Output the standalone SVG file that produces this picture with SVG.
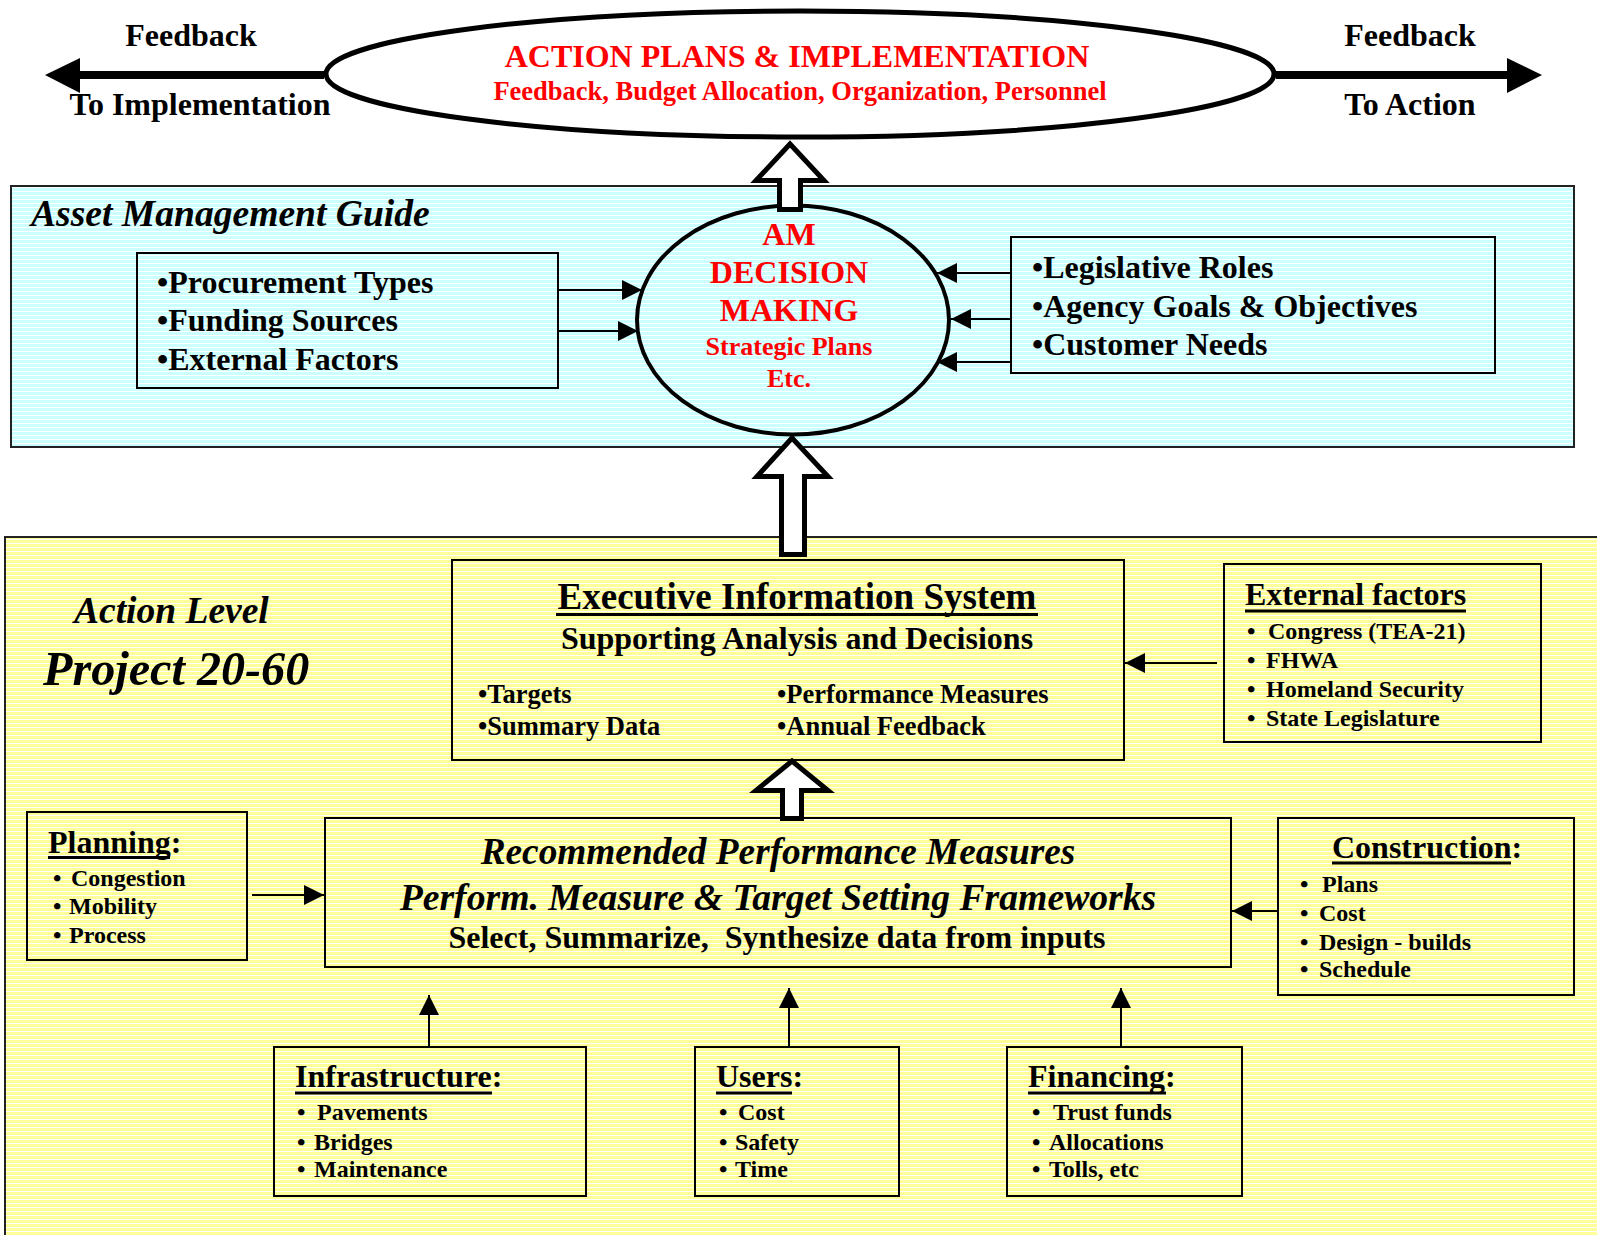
<svg xmlns="http://www.w3.org/2000/svg" width="1597" height="1235" viewBox="0 0 1597 1235">
<style>
text{font-family:"Liberation Serif","Times New Roman",serif;font-weight:bold;fill:#000}
.red{fill:#ff0000}
.it{font-style:italic}
.box{fill:none;stroke:#000;stroke-width:2}
.conn{stroke:#000;stroke-width:2;fill:none}
.ul{stroke:#000;stroke-width:3}
.hollow{fill:#fff;stroke:#000;stroke-width:5;stroke-linejoin:miter}
.f32{font-size:32px}
.f24{font-size:24px}
.mid{text-anchor:middle}
</style>
<defs>
<pattern id="cyanS" width="8" height="4" patternUnits="userSpaceOnUse"><rect width="8" height="4" fill="#ccffff"/><rect y="3" width="8" height="1" fill="#fff"/></pattern>
<pattern id="yelS" width="8" height="4" patternUnits="userSpaceOnUse"><rect width="8" height="4" fill="#ffff99"/><rect y="3" width="8" height="1" fill="#fff"/></pattern>
<marker id="ah" markerUnits="userSpaceOnUse" markerWidth="20" markerHeight="20" refX="20" refY="10" orient="auto"><path d="M0,0 L20,10 L0,20 z" fill="#000"/></marker>
</defs>
<rect width="1597" height="1235" fill="#fff"/>

<g id="asset-management-guide">
<rect x="11" y="186" width="1563" height="261" fill="url(#cyanS)" stroke="#222" stroke-width="2"/>
<text x="31" y="226" class="it" font-size="37.6">Asset Management Guide</text>
</g>
<g id="action-level">
<rect x="5" y="537" width="1600" height="710" fill="url(#yelS)" stroke="#222" stroke-width="2"/>
<text x="74" y="623" class="it" font-size="37.5">Action Level</text>
<text x="43" y="685" class="it" font-size="48.2">Project 20-60</text>
</g>

<g id="action-plans">
<ellipse cx="800" cy="74" rx="474" ry="63" fill="#fff" stroke="#000" stroke-width="5"/>
<text x="797" y="67" class="red mid" font-size="32">ACTION PLANS &amp; IMPLEMENTATION</text>
<text x="800" y="100" class="red mid" font-size="26.5">Feedback, Budget Allocation, Organization, Personnel</text>
</g>

<g id="feedback-left">
<text x="191" y="46" class="mid f32">Feedback</text>
<text x="200" y="115" class="mid f32">To Implementation</text>
</g>
<g id="feedback-right">
<text x="1410" y="46" class="mid f32">Feedback</text>
<text x="1410" y="115" class="mid f32">To Action</text>
</g>

<g id="left-factors">
<rect x="137" y="253" width="421" height="135" class="box"/>
<text x="157" y="293" class="f32">•Procurement Types</text>
<text x="157" y="331" class="f32">•Funding Sources</text>
<text x="157" y="370" class="f32">•External Factors</text>
</g>

<g id="right-factors">
<rect x="1011" y="237" width="484" height="136" class="box"/>
<text x="1032" y="278" class="f32">•Legislative Roles</text>
<text x="1032" y="317" class="f32">•Agency Goals &amp; Objectives</text>
<text x="1032" y="355" class="f32">•Customer Needs</text>
</g>

<g id="am-decision">
<ellipse cx="793" cy="320" rx="156" ry="114.5" fill="url(#cyanS)" stroke="#000" stroke-width="4"/>
<text x="789" y="244.5" class="red mid f32">AM</text>
<text x="789" y="283" class="red mid f32">DECISION</text>
<text x="789" y="321" class="red mid f32">MAKING</text>
<text x="789" y="354.5" class="red mid" font-size="26">Strategic Plans</text>
<text x="789" y="387" class="red mid" font-size="26">Etc.</text>
</g>

<g id="eis">
<rect x="452" y="560" width="672" height="200" class="box"/>
<text x="797" y="609" class="mid" font-size="37">Executive Information System</text>
<line x1="556" y1="614.5" x2="1038" y2="614.5" class="ul"/>
<text x="797" y="649" class="mid f32">Supporting Analysis and Decisions</text>
<text x="478" y="703" font-size="26.5">•Targets</text>
<text x="478" y="734.5" font-size="26.5">•Summary Data</text>
<text x="777" y="703" font-size="26.5">•Performance Measures</text>
<text x="777" y="734.5" font-size="26.5">•Annual Feedback</text>
</g>

<g id="external-factors">
<rect x="1224" y="564" width="317" height="178" class="box"/>
<text x="1245" y="605" class="f32">External factors</text>
<line x1="1245" y1="611" x2="1466" y2="611" class="ul"/>
<text x="1247" y="639" class="f24">•</text><text x="1268" y="639" class="f24">Congress (TEA-21)</text>
<text x="1247" y="668" class="f24">•</text><text x="1266" y="668" class="f24">FHWA</text>
<text x="1247" y="697" class="f24">•</text><text x="1266" y="697" class="f24">Homeland Security</text>
<text x="1247" y="726" class="f24">•</text><text x="1266" y="726" class="f24">State Legislature</text>
</g>

<g id="rpm">
<rect x="325" y="818" width="906" height="149" class="box"/>
<text x="778" y="864" class="mid it" font-size="37.3">Recommended Performance Measures</text>
<text x="778" y="909.5" class="mid it" font-size="37.7">Perform. Measure &amp; Target Setting Frameworks</text>
<text x="777" y="948" class="mid f32">Select, Summarize,&#160; Synthesize data from inputs</text>
</g>

<g id="planning">
<rect x="27" y="812" width="220" height="148" class="box"/>
<text x="48" y="853" class="f32">Planning:</text>
<line x1="48" y1="857.5" x2="170" y2="857.5" class="ul"/>
<text x="53" y="886" class="f24">•</text><text x="71" y="886" class="f24">Congestion</text>
<text x="53" y="914" class="f24">•</text><text x="69" y="914" class="f24">Mobility</text>
<text x="53" y="943" class="f24">•</text><text x="69" y="943" class="f24">Process</text>
</g>

<g id="construction">
<rect x="1278" y="818" width="296" height="177" class="box"/>
<text x="1332" y="858" class="f32">Construction:</text>
<line x1="1332" y1="863" x2="1511" y2="863" class="ul"/>
<text x="1300" y="892" class="f24">•</text><text x="1322" y="892" class="f24">Plans</text>
<text x="1300" y="921" class="f24">•</text><text x="1319" y="921" class="f24">Cost</text>
<text x="1300" y="950" class="f24">•</text><text x="1319" y="950" class="f24">Design - builds</text>
<text x="1300" y="977" class="f24">•</text><text x="1319" y="977" class="f24">Schedule</text>
</g>

<g id="infrastructure">
<rect x="274" y="1047" width="312" height="149" class="box"/>
<text x="295" y="1087" class="f32">Infrastructure:</text>
<line x1="295" y1="1093" x2="492" y2="1093" class="ul"/>
<text x="297" y="1120" class="f24">•</text><text x="317" y="1120" class="f24">Pavements</text>
<text x="297" y="1150" class="f24">•</text><text x="314" y="1150" class="f24">Bridges</text>
<text x="297" y="1177" class="f24">•</text><text x="314" y="1177" class="f24">Maintenance</text>
</g>

<g id="users">
<rect x="695" y="1047" width="204" height="149" class="box"/>
<text x="716" y="1087" class="f32">Users:</text>
<line x1="716" y1="1093" x2="792" y2="1093" class="ul"/>
<text x="719" y="1120" class="f24">•</text><text x="738" y="1120" class="f24">Cost</text>
<text x="719" y="1150" class="f24">•</text><text x="735" y="1150" class="f24">Safety</text>
<text x="719" y="1177" class="f24">•</text><text x="735" y="1177" class="f24">Time</text>
</g>

<g id="financing">
<rect x="1007" y="1047" width="235" height="149" class="box"/>
<text x="1028" y="1087" class="f32">Financing:</text>
<line x1="1028" y1="1093" x2="1166" y2="1093" class="ul"/>
<text x="1032" y="1120" class="f24">•</text><text x="1053" y="1120" class="f24">Trust funds</text>
<text x="1032" y="1150" class="f24">•</text><text x="1049" y="1150" class="f24">Allocations</text>
<text x="1032" y="1177" class="f24">•</text><text x="1049" y="1177" class="f24">Tolls, etc</text>
</g>

<g id="connectors">
<line x1="324" y1="75" x2="78" y2="75" stroke="#000" stroke-width="8"/>
<polygon points="45,75 80,58 80,93" fill="#000"/>
<line x1="1276" y1="75" x2="1509" y2="75" stroke="#000" stroke-width="8"/>
<polygon points="1542,75 1507,58 1507,93" fill="#000"/>

<path class="hollow" d="M790,144 L824,180.5 L800.5,180.5 L800.5,209.5 L779.5,209.5 L779.5,180.5 L756,180.5 Z"/>
<path class="hollow" d="M792,438 L828,476.5 L804.5,476.5 L804.5,554.5 L781.5,554.5 L781.5,476.5 L757,476.5 Z"/>
<path class="hollow" d="M792,761 L828,790.5 L801.5,790.5 L801.5,818.5 L782.5,818.5 L782.5,790.5 L756,790.5 Z"/>

<line x1="558" y1="290" x2="642" y2="290" class="conn" marker-end="url(#ah)"/>
<line x1="558" y1="331" x2="638" y2="331" class="conn" marker-end="url(#ah)"/>
<line x1="1011" y1="273" x2="937" y2="273" class="conn" marker-end="url(#ah)"/>
<line x1="1011" y1="319" x2="951" y2="319" class="conn" marker-end="url(#ah)"/>
<line x1="1011" y1="362" x2="937" y2="362" class="conn" marker-end="url(#ah)"/>

<line x1="1217" y1="663" x2="1125" y2="663" class="conn" marker-end="url(#ah)"/>
<line x1="252" y1="895" x2="324" y2="895" class="conn" marker-end="url(#ah)"/>
<line x1="1277" y1="911" x2="1232" y2="911" class="conn" marker-end="url(#ah)"/>
<line x1="429" y1="1047" x2="429" y2="995" class="conn" marker-end="url(#ah)"/>
<line x1="789" y1="1047" x2="789" y2="988" class="conn" marker-end="url(#ah)"/>
<line x1="1121" y1="1047" x2="1121" y2="988" class="conn" marker-end="url(#ah)"/>
</g>
</svg>
